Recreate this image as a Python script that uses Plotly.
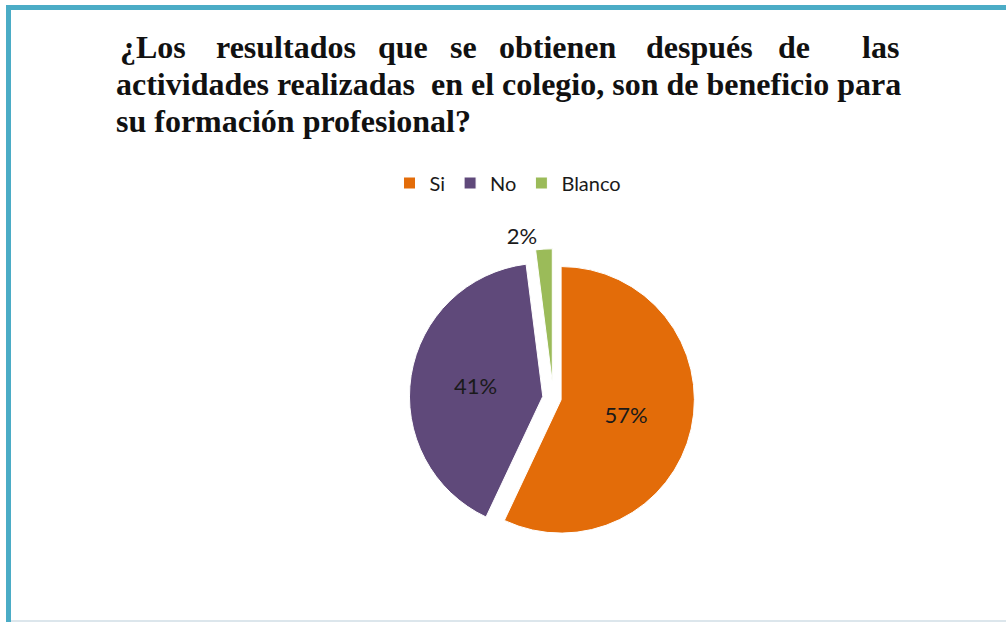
import plotly.graph_objects as go

categories = ["Si", "No", "Blanco"]
values = [57, 41, 2]
colors = ["#E36C09", "#5F497A", "#9BBB59"]

title_line1_words = ["¿Los", "resultados", "que", "se", "obtienen", "después", "de", "las"]
title_line1_centers = [153, 286, 403, 463, 558, 699, 794, 880]
title_line2 = "actividades realizadas  en el colegio, son de beneficio para"
title_line3 = "su formación profesional?"

W, H = 1006, 622

fig = go.Figure()
fig.add_trace(go.Pie(
    labels=categories,
    values=values,
    sort=False,
    direction="clockwise",
    rotation=0,
    pull=[0.06, 0.08, 0.12],
    marker=dict(colors=colors, line=dict(color="#ffffff", width=1)),
    textinfo="percent",
    textposition=["inside", "inside", "outside"],
    insidetextorientation="horizontal",
    textfont=dict(family="Lato, Carlito, Calibri, sans-serif", size=22, color="#1a1a1a"),
    domain=dict(x=[0.28, 0.82], y=[0.12, 0.60]),
    hoverinfo="label+percent",
))

ann = []
title_font = dict(family="Liberation Serif, Times New Roman, serif", size=32, color="#111111")
for w, cx in zip(title_line1_words, title_line1_centers):
    ann.append(dict(x=cx / W, y=1 - 47 / H, xref="paper", yref="paper", text="<b>%s</b>" % w,
                    showarrow=False, xanchor="center", yanchor="middle", font=title_font))
ann.append(dict(x=114 / W, y=1 - 84 / H, xref="paper", yref="paper", text="<b>%s</b>" % title_line2.replace("  ", "&nbsp; "),
                showarrow=False, xanchor="left", yanchor="middle", font=title_font))
ann.append(dict(x=114 / W, y=1 - 121 / H, xref="paper", yref="paper", text="<b>%s</b>" % title_line3,
                showarrow=False, xanchor="left", yanchor="middle", font=title_font))

shapes = [
    dict(type="rect", xref="paper", yref="paper", x0=6 / W, x1=1, y0=1 - 10 / H, y1=1 - 5 / H,
         fillcolor="#4BACC6", line=dict(width=0)),
    dict(type="rect", xref="paper", yref="paper", x0=6 / W, x1=11 / W, y0=0, y1=1 - 5 / H,
         fillcolor="#4BACC6", line=dict(width=0)),
    dict(type="rect", xref="paper", yref="paper", x0=11 / W, x1=1, y0=0, y1=2 / H,
         fillcolor="#DCE6EC", line=dict(width=0)),
]

fig.update_layout(
    width=W, height=H,
    margin=dict(l=0, r=0, t=0, b=0),
    paper_bgcolor="white",
    plot_bgcolor="white",
    showlegend=True,
    legend=dict(orientation="h", x=0.505, y=1 - 183 / H, xanchor="center", yanchor="middle",
                font=dict(family="Lato, Carlito, Calibri, sans-serif", size=20, color="#1a1a1a"),
                itemwidth=30, traceorder="normal"),
    annotations=ann,
    shapes=shapes,
)

fig.write_html("out.html", config={"displayModeBar": False},
               post_script="document.body.style.margin='0';document.body.style.overflow='hidden';")
